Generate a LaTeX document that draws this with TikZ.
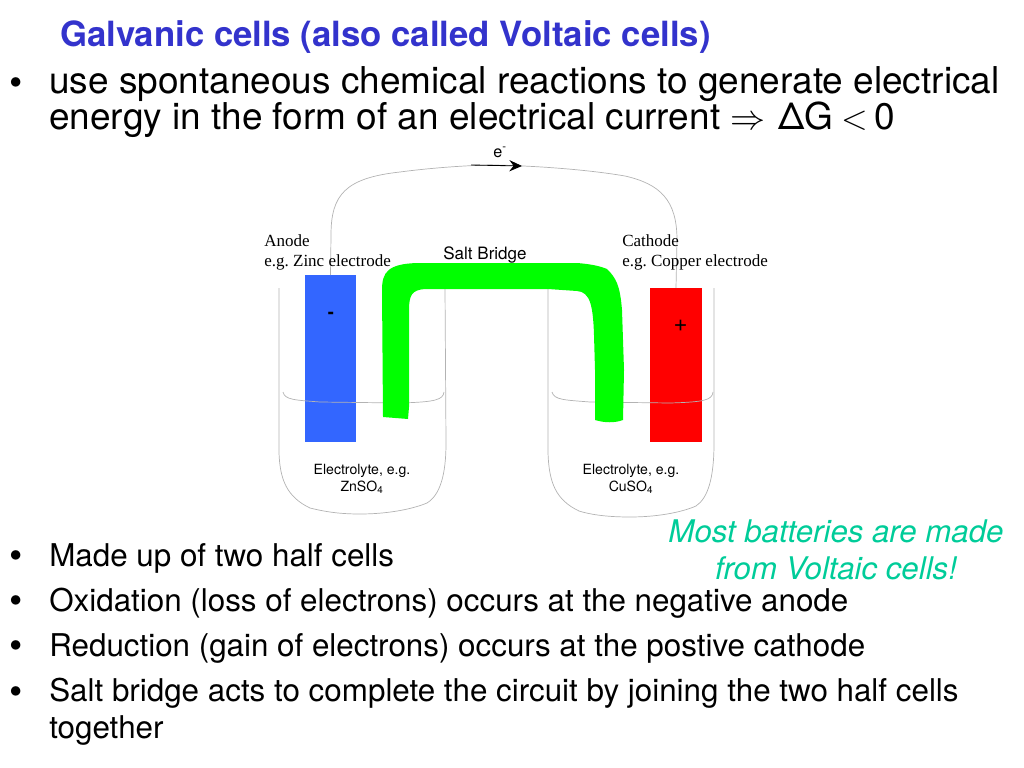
\documentclass[tikz,border=0pt]{standalone}
\usepackage{fontspec}
\setmainfont{TeX Gyre Heros}
\newfontfamily\timesfont{Liberation Serif}
\usetikzlibrary{arrows.meta}
\definecolor{titleblue}{HTML}{3333CC}
\definecolor{noteteal}{HTML}{00CC99}
\definecolor{wiregrey}{HTML}{B3B3B3}
\definecolor{anodeblue}{HTML}{3366FF}
\definecolor{bridgegreen}{HTML}{00FF00}
\tikzset{
  bigline/.style={anchor=base west,inner sep=0,font=\fontsize{26.3}{27}\selectfont},
  smallline/.style={anchor=base west,inner sep=0,font=\fontsize{22.3}{24}\selectfont},
  bullet/.style={anchor=base,inner sep=0,font=\fontsize{27}{29}\selectfont},
  electrode/.style={draw=none,inner sep=0,minimum width=1.29cm,anchor=north},
  glass/.style={draw=wiregrey,line width=0.5pt},
  seriflabel/.style={anchor=base west,inner sep=0,font=\frenchspacing\timesfont\fontsize{12.1}{13}\selectfont},
  sanslabel/.style={anchor=base,inner sep=0,font=\fontsize{10}{12}\selectfont},
  noteline/.style={anchor=base,inner sep=0,text=noteteal,font=\itshape\fontsize{22.2}{24}\selectfont}
}
\begin{document}
\begin{tikzpicture}[x=0.025cm,y=-0.025cm]
\useasboundingbox (0,0) rectangle (1024,768);
% text on top
\node[anchor=base west,inner sep=0,text=titleblue,font=\bfseries\fontsize{24.7}{26}\selectfont] (title) at (60,46.5) {Galvanic cells (also called Voltaic cells)};
\node[bullet] (bulletTop) at (16,96) {•};
\node[bigline] (lineOne) at (49,94) {use spontaneous chemical reactions to generate electrical};
\node[bigline] (lineTwo) at (49,130) {energy in the form of an electrical current $\Rightarrow$\kern2pt\ ΔG\kern-2pt\ $<$\kern-2.5pt\ 0};

% electrodes
\node[electrode,fill=anodeblue,minimum height=4.175cm] (anode) at (330.5,275) {};
\node[electrode,fill=red,minimum height=3.85cm] (cathode) at (676,288) {};
\node[anchor=base,inner sep=0,font=\bfseries\fontsize{13}{13}\selectfont] (minus) at (331,318) {-};
\node[anchor=base,inner sep=0,font=\fontsize{17}{17}\selectfont] (plus) at (680.5,331) {+};

% beakers
\draw[glass] (279,288) -- (279,453) .. controls (280,480) and (287,497) .. (310,508) .. controls (330,513) and (345,514) .. (360,514) .. controls (385,514) and (410,510) .. (427,503) .. controls (440,495) and (446,475) .. (446,443) -- (445,288);
\draw[glass] (548,288) -- (548,453) .. controls (549,483) and (556,500) .. (579,511) .. controls (595,516) and (615,517) .. (630,517) .. controls (655,517) and (680,513) .. (696,506) .. controls (708,498) and (714,478) .. (714,443) -- (714,288);
\draw[glass] (283,392) .. controls (285,400) and (295,400) .. (320,402) -- (400,403) .. controls (435,402) and (443,400) .. (444,392);
\draw[glass] (552,392) .. controls (554,400) and (565,400) .. (590,402) -- (670,403) .. controls (705,402) and (712,400) .. (713,392);

% salt bridge
\fill[bridgegreen] (383,417) -- (382,290) .. controls (382,272) and (388,264) .. (417,263) -- (577,263) .. controls (590,264) and (600,266) .. (607,269) .. controls (616,278) and (620,285) .. (622,310) -- (624,370) -- (623,420) .. controls (615,423) and (605,423) .. (595,420) -- (595,370) -- (594,335) .. controls (593,305) and (590,292) .. (577,291) -- (548,289) -- (425,289) .. controls (412,290) and (409,295) .. (409,310) -- (409,407) -- (408,419) -- cycle;

% wire and electron arrow
\coordinate (wireMid) at (495,165);
\coordinate (arrowStart) at (471,165);
\coordinate (arrowEnd) at (522,166);
\draw[glass] (anode.north) -- (331,235) .. controls (331,195) and (345,178) .. (400,172) .. controls (430,168) and (470,165) .. (wireMid);
\draw[glass] (wireMid) .. controls (540,166) and (590,170) .. (625,176) .. controls (660,184) and (677,200) .. (677,240) -- (cathode.north);
\draw[line width=0.6pt,-{Stealth[length=9pt,width=8pt,inset=3pt]}] (arrowStart) -- (arrowEnd);
\node[anchor=base,inner sep=0,font=\fontsize{11.5}{12}\selectfont] (eminus) at (500,157) {e\textsuperscript{-}};

% labels
\node[seriflabel] (anodeName) at (264,246) {Anode};
\node[seriflabel] (anodeEg) at (264,266) {e.g. Zinc electrode};
\node[seriflabel] (cathodeName) at (622,246) {Cathode};
\node[seriflabel] (cathodeEg) at (622,266) {e.g. Copper electrode};
\node[anchor=base,inner sep=0,font=\fontsize{12.1}{13}\selectfont] (bridgeName) at (485,259) {Salt Bridge};
\node[sanslabel] (leftElectro) at (362,474) {Electrolyte, e.g.};
\node[sanslabel] (leftSalt) at (362,491) {ZnSO\textsubscript{4}};
\node[sanslabel] (rightElectro) at (631,474) {Electrolyte, e.g.};
\node[sanslabel] (rightSalt) at (631,491) {CuSO\textsubscript{4}};

% note
\node[noteline] (noteOne) at (836,542.5) {Most batteries are made};
\node[noteline] (noteTwo) at (836,579.5) {from Voltaic cells!};

% lower points
\node[bullet] (bulletOne) at (16,568) {•};
\node[smallline] (pointOne) at (49,566) {Made up of two half cells};
\node[bullet] (bulletTwo) at (16,613) {•};
\node[smallline] (pointTwo) at (49,611) {Oxidation (loss of electrons) occurs at the negative anode};
\node[bullet] (bulletThree) at (16,658) {•};
\node[smallline] (pointThree) at (49,656) {Reduction (gain of electrons) occurs at the postive cathode};
\node[bullet] (bulletFour) at (16,704) {•};
\node[smallline] (pointFour) at (49,701) {Salt bridge acts to complete the circuit by joining the two half cells};
\node[smallline] (pointFive) at (49,738) {together};
\end{tikzpicture}
\end{document}
